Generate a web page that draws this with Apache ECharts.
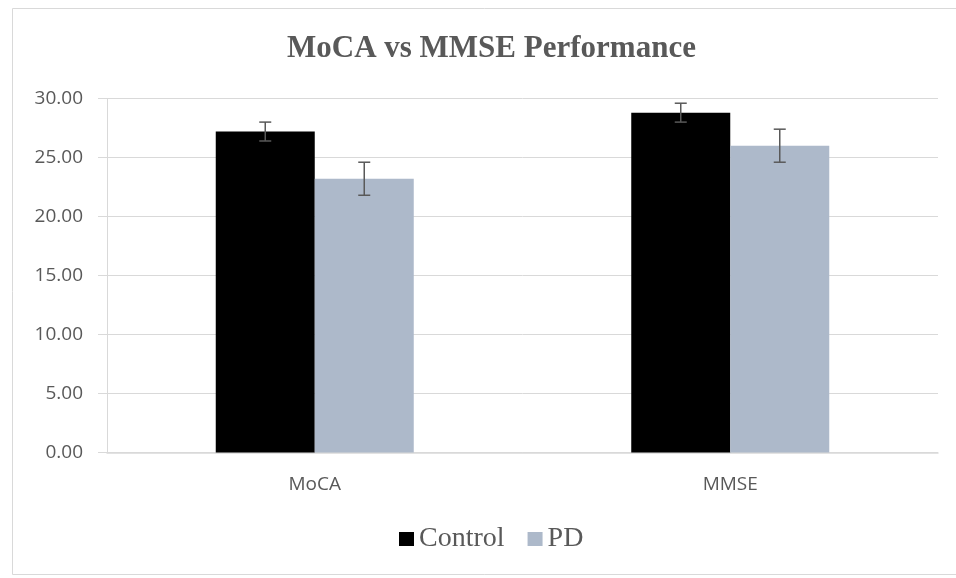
<!DOCTYPE html>
<html>
<head>
<meta charset="utf-8">
<script src="https://cdn.jsdelivr.net/npm/echarts@6/dist/echarts.min.js"></script>
<style>html,body{margin:0;padding:0;background:#fff}#c{width:956px;height:578px}</style>
</head>
<body>
<div id="c"></div>
<script>
const categories = ['MoCA', 'MMSE'];
const seriesNames = ['Control', 'PD'];
const controlValues = [27.2, 28.8];
const pdValues = [23.2, 26.0];
const controlErrors = [0.8, 0.8];
const pdErrors = [1.4, 1.4];
const yTicks = [0, 5, 10, 15, 20, 25, 30];

const chart = echarts.init(document.getElementById('c'));

function errorSeries(values, errs, idx) {
  return {
    type: 'custom',
    z: 10,
    silent: true,
    data: values.map((v, i) => [i, v - errs[i], v + errs[i]]),
    renderItem: function (params, api) {
      const ci = api.value(0);
      const lo = api.coord([ci, api.value(1)]);
      const hi = api.coord([ci, api.value(2)]);
      const barW = 99;
      const x = lo[0] + (idx === 0 ? -barW / 2 : barW / 2);
      const cap = 6;
      const style = { stroke: '#595959', lineWidth: 1.5, fill: null };
      return {
        type: 'group',
        children: [
          { type: 'line', shape: { x1: x, y1: hi[1], x2: x, y2: lo[1] }, style: style },
          { type: 'line', shape: { x1: x - cap, y1: hi[1], x2: x + cap, y2: hi[1] }, style: style },
          { type: 'line', shape: { x1: x - cap, y1: lo[1], x2: x + cap, y2: lo[1] }, style: style }
        ]
      };
    }
  };
}

chart.setOption({
  animation: false,
  title: {
    text: 'MoCA vs MMSE Performance',
    left: 287,
    top: 33,
    padding: 0,
    textStyle: { fontFamily: 'Liberation Serif', fontWeight: 'bold', fontSize: 31, color: '#595959' }
  },
  graphic: [{
    type: 'rect',
    shape: { x: 12.5, y: 8.5, width: 960, height: 566 },
    style: { fill: null, stroke: '#d9d9d9', lineWidth: 1 },
    silent: true
  }],
  legend: {
    data: seriesNames,
    left: 399,
    top: 525,
    itemWidth: 15,
    itemHeight: 14,
    itemGap: 23,
    icon: 'rect',
    padding: 0,
    textStyle: { fontFamily: 'Liberation Serif', fontSize: 28, color: '#595959' }
  },
  grid: { left: 107, right: 18, top: 98.5, bottom: 125.5, containLabel: false },
  xAxis: {
    type: 'category',
    data: categories,
    axisLine: { show: true, lineStyle: { color: '#d9d9d9', width: 1.5 } },
    axisTick: { show: false },
    axisLabel: { margin: 23, fontFamily: 'Open Sans', fontSize: 19, color: '#595959' }
  },
  yAxis: {
    type: 'value',
    min: 0,
    max: 30,
    interval: 5,
    axisLine: { show: true, lineStyle: { color: '#d9d9d9', width: 1 } },
    axisTick: { show: true, length: 9, lineStyle: { color: '#d9d9d9' } },
    splitLine: { lineStyle: { color: '#d9d9d9', width: 1 } },
    axisLabel: {
      margin: 24,
      fontFamily: 'Open Sans',
      fontSize: 19,
      color: '#595959',
      formatter: v => yTicks.includes(v) ? v.toFixed(2) : ''
    }
  },
  series: [
    { name: 'Control', type: 'bar', data: controlValues, barWidth: 99, barGap: '0%', itemStyle: { color: '#000000' } },
    { name: 'PD', type: 'bar', data: pdValues, barWidth: 99, barGap: '0%', itemStyle: { color: '#ADB9CA' } },
    errorSeries(controlValues, controlErrors, 0),
    errorSeries(pdValues, pdErrors, 1)
  ]
});
</script>
</body>
</html>
